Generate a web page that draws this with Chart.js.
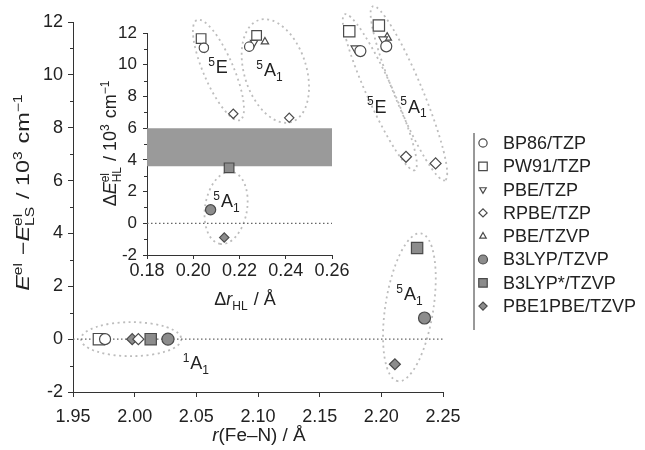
<!DOCTYPE html>
<html>
<head>
<meta charset="utf-8">
<script src="https://cdn.jsdelivr.net/npm/chart.js@4.4.0/dist/chart.umd.min.js"></script>
<style>
  body { margin: 0; background: #fff; }
  #wrap { position: relative; width: 645px; height: 450px; overflow: hidden; }
  #main { position: absolute; left: 0; top: 0; }
  #inset { position: absolute; left: 90px; top: 0; }
</style>
</head>
<body>
<div id="wrap">
  <canvas id="main" width="645" height="450"></canvas>
  <canvas id="inset" width="270" height="320"></canvas>
</div>
<script>
// functionals, in legend order
const methods = ['BP86/TZP', 'PW91/TZP', 'PBE/TZP', 'RPBE/TZP', 'PBE/TZVP', 'B3LYP/TZVP', 'B3LYP*/TZVP', 'PBE1PBE/TZVP'];

// main panel: mean r(Fe-N) [Å] and E - E(LS) [10^3 cm^-1]
const rLS  = [1.976, 1.971, 1.975, 2.003, 1.974, 2.027, 2.013, 1.998];
const eLS  = [0, 0, 0, 0, 0, 0, 0, 0];
const r5E  = [2.183, 2.174, 2.179, 2.220, null, null, null, null];
const e5E  = [10.9, 11.65, 11.0, 6.9, null, null, null, null];
const r5A1 = [2.204, 2.198, 2.2015, 2.244, 2.2047, 2.235, 2.229, 2.211];
const e5A1 = [11.08, 11.87, 11.34, 6.65, 11.41, 0.8, 3.45, -0.95];

// inset: delta r(HL) [Å] and delta E(HL) [10^3 cm^-1]
const dr5E  = [0.2046, 0.2034, 0.2048, 0.2173, null, null, null, null];
const dE5E  = [11.07, 11.65, 11.05, 6.9, null, null, null, null];
const dr5A1 = [0.2242, 0.2274, 0.2263, 0.2415, 0.231, 0.2075, 0.2155, 0.2134];
const dE5A1 = [11.14, 11.85, 11.4, 6.65, 11.45, 0.85, 3.5, -0.9];

// shaded window in the inset
const bandX = [0.18, 0.26];
const bandY = [3.6, 6.0];

// axis ranges [min, max, labelled step]; y axes also get unlabelled ticks halfway
const mainX = [1.95, 2.25, 0.05];
const mainY = [-2, 12, 2];
const insetX = [0.18, 0.26, 0.02];
const insetY = [-2, 12, 2];

const FONT = '"Liberation Sans", Arial, Helvetica, sans-serif';
const INK = '#222';
const AXIS = '#333';
const GREY = '#8c8c8c';
const EDGE = '#4a4a4a';

// marker look for each functional
const markers = [
  { style: 'circle',   rot: 0,   r: 5.5, filled: false },
  { style: 'rect',     rot: 0,   r: 8,   filled: false },
  { style: 'triangle', rot: 180, r: 5,   filled: false },
  { style: 'rectRot',  rot: 0,   r: 5.5, filled: false },
  { style: 'triangle', rot: 0,   r: 5,   filled: false },
  { style: 'circle',   rot: 0,   r: 6,   filled: true },
  { style: 'rect',     rot: 0,   r: 8,   filled: true },
  { style: 'rectRot',  rot: 0,   r: 5.5, filled: true }
];

function methodSets(series, k) {
  return methods.map((name, i) => {
    const pts = [];
    series.forEach(([xs, ys]) => {
      if (xs[i] != null) pts.push({ x: xs[i], y: ys[i] });
    });
    const m = markers[i];
    return {
      label: name,
      data: pts,
      pointStyle: m.style,
      pointRotation: m.rot,
      pointRadius: m.r * k,
      backgroundColor: m.filled ? GREY : '#fff',
      borderColor: EDGE,
      borderWidth: 1.2,
      clip: false,
      order: 0
    };
  });
}

function zeroLine(range) {
  return {
    type: 'line', label: 'zero',
    data: [{ x: range[0], y: 0 }, { x: range[1], y: 0 }],
    borderColor: '#666', borderWidth: 1.3, borderDash: [1.5, 2.5],
    pointRadius: 0, fill: false, order: 9
  };
}

// rich text: base runs plus super/subscripts
function drawRich(ctx, parts, cx, cy, size, angle, stretch) {
  const small = Math.round(size * 0.64);
  const items = [];
  let w = 0;
  ctx.save();
  ctx.translate(cx, cy);
  ctx.rotate(angle || 0);
  ctx.scale(stretch || 1, 1);
  for (const p of parts) {
    if (p.t) {
      ctx.font = (p.it ? 'italic ' : '') + size + 'px ' + FONT;
      items.push({ s: p.t, f: ctx.font, x: w, dy: 0 });
      w += ctx.measureText(p.t).width;
    } else {
      let adv = 0;
      ctx.font = small + 'px ' + FONT;
      if (p.sup) {
        items.push({ s: p.sup, f: ctx.font, x: w, dy: -size * 0.4 });
        adv = Math.max(adv, ctx.measureText(p.sup).width);
      }
      if (p.sub) {
        items.push({ s: p.sub, f: ctx.font, x: w, dy: size * 0.25 });
        adv = Math.max(adv, ctx.measureText(p.sub).width);
      }
      w += adv + 1;
    }
  }
  ctx.fillStyle = INK;
  ctx.textAlign = 'left';
  ctx.textBaseline = 'alphabetic';
  for (const it of items) {
    ctx.font = it.f;
    ctx.fillText(it.s, it.x - w / 2, size * 0.36 + it.dy);
  }
  ctx.restore();
}

// dotted ellipses, minor ticks, state tags, axis titles and the side legend
const decor = {
  id: 'decor',
  beforeDatasetsDraw(chart, args, opts) {
    const { ctx, scales: { x, y } } = chart;
    ctx.save();
    ctx.strokeStyle = '#bdbdbd';
    ctx.lineWidth = 1.8;
    ctx.setLineDash([2, 3.5]);
    for (const e of opts.ellipses || []) {
      const x1 = x.getPixelForValue(e.a[0]), y1 = y.getPixelForValue(e.a[1]);
      const x2 = x.getPixelForValue(e.b[0]), y2 = y.getPixelForValue(e.b[1]);
      const len = Math.hypot(x2 - x1, y2 - y1) / 2;
      ctx.beginPath();
      ctx.ellipse((x1 + x2) / 2, (y1 + y2) / 2, len, e.w, Math.atan2(y2 - y1, x2 - x1), 0, Math.PI * 2);
      ctx.stroke();
    }
    ctx.restore();
  },
  afterDraw(chart, args, opts) {
    const { ctx, scales: { x, y } } = chart;
    // short unlabelled ticks between the labelled ones
    ctx.save();
    ctx.strokeStyle = AXIS;
    ctx.lineWidth = 1;
    ctx.beginPath();
    for (let v = y.min + y.options.ticks.stepSize / 2; v < y.max; v += y.options.ticks.stepSize) {
      const py = Math.round(y.getPixelForValue(v)) + 0.5;
      ctx.moveTo(x.left - opts.minorTick, py);
      ctx.lineTo(x.left, py);
    }
    ctx.stroke();
    ctx.restore();

    for (const t of opts.tags || []) {
      drawRich(ctx, t.parts, x.getPixelForValue(t.x), y.getPixelForValue(t.y), 18, 0, 1);
    }
    for (const t of opts.titles || []) {
      drawRich(ctx, t.parts, t.cx, t.cy, t.size, t.angle, t.stretch);
    }
    const lg = opts.legend;
    if (!lg) return;
    ctx.save();
    ctx.strokeStyle = AXIS;
    ctx.lineWidth = 1;
    ctx.beginPath();
    ctx.moveTo(lg.lineX, lg.top);
    ctx.lineTo(lg.lineX, lg.bottom);
    ctx.stroke();
    chart.data.datasets.forEach((ds, i) => {
      if (ds.label === 'zero') return;
      const cy = lg.first + i * lg.step;
      ctx.fillStyle = ds.backgroundColor;
      ctx.strokeStyle = ds.borderColor;
      ctx.lineWidth = 1.2;
      Chart.helpers.drawPoint(ctx, {
        pointStyle: ds.pointStyle, rotation: ds.pointRotation,
        radius: ds.pointRadius * 0.75, borderWidth: 1.2
      }, lg.markX, cy);
      ctx.fillStyle = INK;
      ctx.font = lg.size + 'px ' + FONT;
      ctx.textBaseline = 'middle';
      ctx.textAlign = 'left';
      ctx.fillText(ds.label, lg.textX, cy + 1);
    });
    ctx.restore();
  }
};

function axis(range, opts) {
  return {
    type: 'linear',
    min: range[0], max: range[1],
    border: { display: true, color: AXIS, width: 1 },
    grid: { drawOnChartArea: false, drawTicks: true, tickLength: opts.tick, tickColor: AXIS, tickWidth: 1 },
    ticks: {
      stepSize: range[2], autoSkip: false, maxRotation: 0,
      padding: opts.pad, color: INK,
      font: { family: FONT, size: opts.font },
      callback: opts.label
    },
    afterFit: opts.fit
  };
}

const intLabel = v => String(Math.round(v));
const twoDp = v => v.toFixed(2);

new Chart(document.getElementById('main'), {
  type: 'scatter',
  data: {
    datasets: [
      ...methodSets([[rLS, eLS], [r5E, e5E], [r5A1, e5A1]], 1),
      zeroLine(mainX)
    ]
  },
  options: {
    responsive: false, animation: false, devicePixelRatio: 1, events: [],
    layout: { padding: { left: 0, right: 202, top: 22, bottom: 0 } },
    plugins: {
      legend: { display: false },
      tooltip: { enabled: false },
      decor: {
        minorTick: 3,
        ellipses: [
          { a: [1.9565, 0], b: [2.0378, 0], w: 17 },
          { a: [2.1703, 12.29], b: [2.2272, 6.39], w: 13 },
          { a: [2.1931, 12.59], b: [2.2516, 6.01], w: 14 },
          { a: [2.2321, 4.0], b: [2.2134, -1.59], w: 24 }
        ],
        tags: [
          { x: 2.1963, y: 8.82, parts: [{ sup: '5' }, { t: 'E' }] },
          { x: 2.2264, y: 8.82, parts: [{ sup: '5' }, { t: 'A' }, { sub: '1' }] },
          { x: 2.2232, y: 1.71, parts: [{ sup: '5' }, { t: 'A' }, { sub: '1' }] },
          { x: 2.050, y: -0.9, parts: [{ sup: '1' }, { t: 'A' }, { sub: '1' }] }
        ],
        titles: [
          { cx: 23, cy: 192, size: 18, angle: -Math.PI / 2, stretch: 1.3,
            parts: [{ t: 'E', it: 1 }, { sup: 'el' }, { t: ' \u2212' }, { t: 'E', it: 1 }, { sup: 'el', sub: 'LS' },
                    { t: ' / 10' }, { sup: '3' }, { t: ' cm' }, { sup: '\u22121' }] },
          { cx: 259, cy: 435, size: 18, angle: 0, stretch: 1.05,
            parts: [{ t: 'r', it: 1 }, { t: '(Fe\u2013N) / \u00c5' }] }
        ],
        legend: { lineX: 474, top: 133, bottom: 330, first: 143, step: 23.3, markX: 483, textX: 503, size: 18 }
      }
    },
    scales: {
      x: axis(mainX, { tick: 5, pad: 9, font: 18, label: twoDp, fit: s => { s.height = 58; } }),
      y: axis(mainY, { tick: 5, pad: 5, font: 18, label: intLabel, fit: s => { s.width = 73; } })
    }
  },
  plugins: [decor]
});

new Chart(document.getElementById('inset'), {
  type: 'scatter',
  data: {
    datasets: [
      ...methodSets([[dr5E, dE5E], [dr5A1, dE5A1]], 0.85),
      zeroLine(insetX),
      {
        type: 'line', label: 'bandHigh',
        data: bandX.map(v => ({ x: v, y: bandY[1] })),
        borderWidth: 0, pointRadius: 0, backgroundColor: '#9a9a9a', fill: '+1', order: 10
      },
      {
        type: 'line', label: 'bandLow',
        data: bandX.map(v => ({ x: v, y: bandY[0] })),
        borderWidth: 0, pointRadius: 0, fill: false, order: 10
      }
    ]
  },
  options: {
    responsive: false, animation: false, devicePixelRatio: 1, events: [],
    layout: { padding: { left: 0, right: 28, top: 33, bottom: 0 } },
    plugins: {
      legend: { display: false },
      tooltip: { enabled: false },
      decor: {
        minorTick: 3,
        ellipses: [
          { a: [0.2016, 12.82], b: [0.2202, 6.51], w: 15 },
          { a: [0.2285, 12.82], b: [0.2425, 6.39], w: 31 },
          { a: [0.2168, 3.24], b: [0.2116, -1.30], w: 21 }
        ],
        tags: [
          { x: 0.2107, y: 9.86, parts: [{ sup: '5' }, { t: 'E' }] },
          { x: 0.2332, y: 9.67, parts: [{ sup: '5' }, { t: 'A' }, { sub: '1' }] },
          { x: 0.2146, y: 1.41, parts: [{ sup: '5' }, { t: 'A' }, { sub: '1' }] }
        ],
        titles: [
          { cx: 20, cy: 143, size: 18, angle: -Math.PI / 2, stretch: 1,
            parts: [{ t: '\u0394' }, { t: 'E', it: 1 }, { sup: 'el', sub: 'HL' },
                    { t: ' / 10' }, { sup: '3' }, { t: ' cm' }, { sup: '\u22121' }] },
          { cx: 155, cy: 299, size: 18, angle: 0, stretch: 1,
            parts: [{ t: '\u0394' }, { t: 'r', it: 1 }, { sub: 'HL' }, { t: ' / \u00c5' }] }
        ]
      }
    },
    scales: {
      x: axis(insetX, { tick: 4, pad: 1, font: 18, label: twoDp, fit: s => { s.height = 65; } }),
      y: axis(insetY, { tick: 4, pad: 6, font: 17, label: intLabel, fit: s => { s.width = 57; } })
    }
  },
  plugins: [decor]
});
</script>
</body>
</html>
